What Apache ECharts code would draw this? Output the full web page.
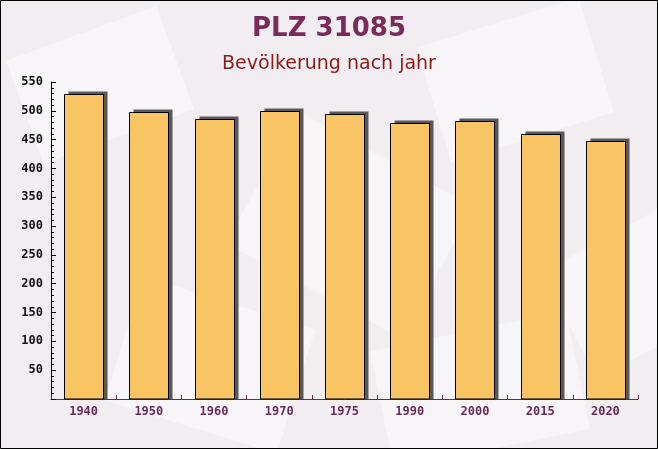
<!DOCTYPE html>
<html>
<head>
<meta charset="utf-8">
<script src="https://cdn.jsdelivr.net/npm/echarts@6/dist/echarts.min.js"></script>
<style>
html,body{margin:0;padding:0;background:#f3f0f2;}
#c{width:658px;height:449px;}
</style>
</head>
<body>
<div id="c"></div>
<script>
const categories = ['1940','1950','1960','1970','1975','1990','2000','2015','2020'];
const population = [530, 498, 485, 499, 494, 479, 483, 460, 448];
const yTicks = [0, 550, 50];

const chart = echarts.init(document.getElementById('c'));
const deco = [
  {x: 20, y: 30, w: 160, h: 110, r: 0.35},
  {x: 250, y: 150, w: 200, h: 150, r: -0.5},
  {x: 430, y: 20, w: 170, h: 120, r: 0.3},
  {x: 120, y: 300, w: 180, h: 130, r: -0.3},
  {x: 560, y: 230, w: 150, h: 120, r: 0.5},
  {x: 380, y: 330, w: 200, h: 120, r: 0.2}
];
chart.setOption({
  backgroundColor: '#f1edf0',
  animation: false,
  title: [
    {text: 'PLZ 31085', left: 'center', top: 11,
     textStyle: {fontFamily: 'DejaVu Sans', fontWeight: 'bold', fontSize: 26, color: '#7a2b5a'}},
    {text: 'Bevölkerung nach jahr', left: 'center', top: 50,
     textStyle: {fontFamily: 'DejaVu Sans', fontWeight: 'normal', fontSize: 19, color: '#8b1a1a'}}
  ],
  graphic: deco.map(d => ({
    type: 'rect', x: d.x + d.w / 2, y: d.y + d.h / 2, rotation: d.r,
    shape: {x: -d.w / 2, y: -d.h / 2, width: d.w, height: d.h},
    style: {fill: 'rgba(255,255,255,0.45)'}, z: -10, silent: true
  })).concat([
    {type: 'rect', shape: {x: 0.5, y: 0.5, width: 657, height: 448},
     style: {fill: 'none', stroke: '#000', lineWidth: 1}, z: 100}
  ]),
  grid: {left: 51, right: 20, top: 82, bottom: 50},
  xAxis: {
    type: 'category', data: categories,
    axisLine: {lineStyle: {color: '#6b2a50', width: 1}},
    axisTick: {show: true, inside: true, length: 4, lineStyle: {color: '#6b2a50'}},
    axisLabel: {fontFamily: 'DejaVu Sans Mono', fontWeight: 'bold', fontSize: 12, color: '#6b2a5a', margin: 7}
  },
  yAxis: {
    type: 'value', min: yTicks[0], max: yTicks[1], interval: yTicks[2],
    splitLine: {show: false},
    axisLine: {show: true, lineStyle: {color: '#000', width: 1}},
    axisTick: {show: true, inside: true, length: 5, lineStyle: {color: '#000'}},
    minorTick: {show: true, splitNumber: 5, length: 3, lineStyle: {color: '#000'}},
    axisLabel: {fontFamily: 'DejaVu Sans Mono', fontWeight: 'bold', fontSize: 12, color: '#111', margin: 8,
      formatter: v => v === 0 ? '' : v}
  },
  series: [{
    type: 'custom',
    data: population.map((v, i) => [i, v]),
    encode: {x: 0, y: 1},
    renderItem: function (params, api) {
      const top = api.coord([api.value(0), api.value(1)]);
      const base = api.coord([api.value(0), 0]);
      const w = 39;
      const left = Math.round(top[0] - w / 2) + 0.5;
      const t = Math.round(top[1]) + 0.5;
      const b = Math.round(base[1]);
      return {
        type: 'group',
        children: [
          {type: 'rect', shape: {x: left + 4, y: t - 3, width: w, height: b - t + 3},
           style: {fill: '#5b5858'}},
          {type: 'rect', shape: {x: left, y: t, width: w, height: b - t},
           style: {fill: '#f9c463', stroke: '#000', lineWidth: 1}}
        ]
      };
    }
  }]
});
</script>
</body>
</html>
